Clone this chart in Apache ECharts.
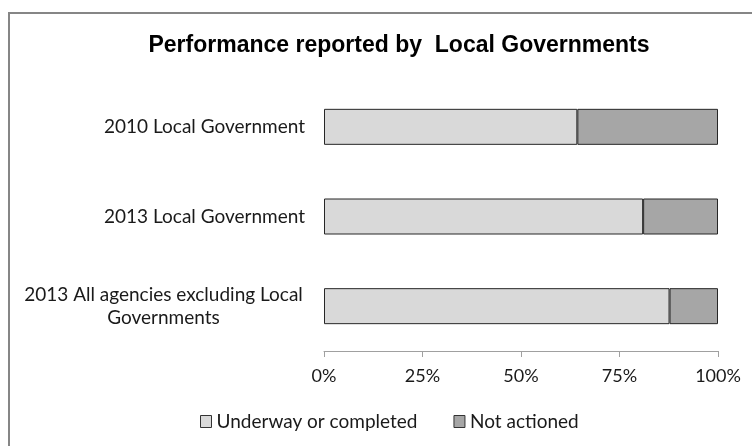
<!DOCTYPE html>
<html>
<head>
<meta charset="utf-8">
<script src="https://cdn.jsdelivr.net/npm/echarts@6/dist/echarts.min.js"></script>
<style>
  html, body { margin: 0; padding: 0; background: #ffffff; }
  #chart { width: 752px; height: 446px; }
</style>
</head>
<body>
<div id="chart"></div>
<script>
// Share of actions by status for each reporting group (percent of total)
const categories = [
  '2010 Local Government',
  '2013 Local Government',
  '2013 All agencies excluding Local\nGovernments'
];
const underwayOrCompleted = [64.3, 81.0, 87.7];
const notActioned = [35.7, 19.0, 12.3];
const seriesNames = ['Underway or completed', 'Not actioned'];
const tickLabels = ['0%', '25%', '50%', '75%', '100%'];

const labelFont = 'Lato, "Liberation Sans", sans-serif';

const chart = echarts.init(document.getElementById('chart'), null, { renderer: 'canvas' });

chart.setOption({
  backgroundColor: '#ffffff',
  animation: false,
  graphic: [{
    type: 'rect',
    shape: { x: 9, y: 13, width: 800, height: 500 },
    style: { fill: 'none', stroke: '#868686', lineWidth: 2 },
    silent: true,
    z: -1
  }],
  title: {
    text: 'Performance reported by  Local Governments',
    left: 394,
    textAlign: 'center',
    top: 29,
    textStyle: {
      fontFamily: '"Liberation Sans", Arial, sans-serif',
      fontWeight: 'bold',
      fontSize: 23,
      color: '#000000'
    }
  },
  legend: {
    data: seriesNames,
    left: 200,
    top: 412,
    padding: 0,
    itemWidth: 11,
    itemHeight: 12,
    itemGap: 36,
    icon: 'rect',
    itemStyle: { borderColor: '#333333', borderWidth: 1 },
    textStyle: { fontFamily: labelFont, fontSize: 19, color: '#1a1a1a' },
    selectedMode: false
  },
  grid: { left: 324, right: 34, top: 82, bottom: 95, containLabel: false },
  xAxis: {
    type: 'value',
    min: 0,
    max: 100,
    interval: 25,
    axisLine: { show: true, lineStyle: { color: '#a0a0a0', width: 1 } },
    axisTick: { show: true, length: 6, lineStyle: { color: '#a0a0a0' } },
    splitLine: { show: false },
    axisLabel: {
      margin: 16,
      fontFamily: labelFont,
      fontSize: 18,
      color: '#1a1a1a',
      formatter: function (v) { return tickLabels[Math.round(v / 25)]; }
    }
  },
  yAxis: {
    type: 'category',
    data: categories,
    inverse: true,
    axisLine: { show: false },
    axisTick: { show: false },
    axisLabel: {
      margin: 19,
      fontFamily: labelFont,
      fontSize: 19,
      color: '#1a1a1a',
      lineHeight: 23,
      formatter: function (value) {
        if (value.indexOf('\n') >= 0) {
          return value.split('\n').map(function (s) { return '{c|' + s + '}'; }).join('\n');
        }
        return value;
      },
      rich: {
        c: {
          width: 283,
          align: 'center',
          fontFamily: labelFont,
          fontSize: 19,
          color: '#1a1a1a',
          lineHeight: 23
        }
      }
    }
  },
  series: [
    {
      name: seriesNames[0],
      type: 'bar',
      stack: 'total',
      barWidth: 36,
      data: underwayOrCompleted,
      itemStyle: { color: '#d9d9d9', borderColor: '#262626', borderWidth: 1 }
    },
    {
      name: seriesNames[1],
      type: 'bar',
      stack: 'total',
      barWidth: 36,
      data: notActioned,
      itemStyle: { color: '#a6a6a6', borderColor: '#262626', borderWidth: 1 }
    }
  ]
});
</script>
</body>
</html>
